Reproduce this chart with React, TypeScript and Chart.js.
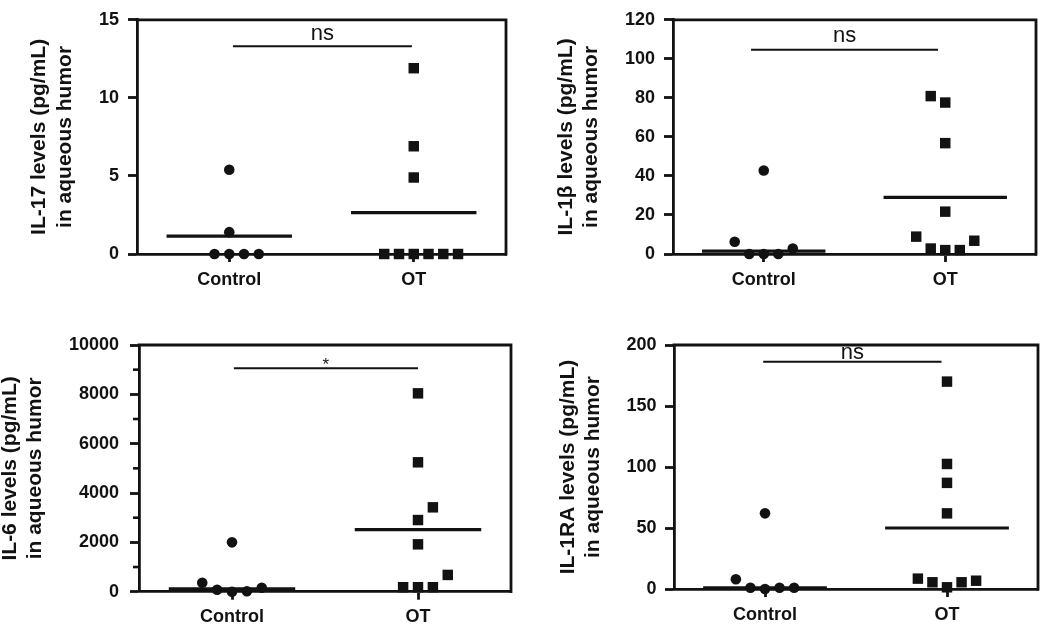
import React, { useEffect, useRef } from 'react';
import { Chart, registerables } from 'chart.js';

Chart.register(...registerables);

// ---------- data ----------
const groups = ['Control', 'OT'];
const lineLabel2 = 'in aqueous humor';

// IL-17
const il17Title = 'IL-17 levels (pg/mL)';
const il17Ticks = [0, 5, 10, 15];
const il17ControlX = [1.0, 1.0, 0.92, 1.0, 1.08, 1.16];
const il17ControlY = [5.4, 1.4, 0, 0, 0, 0];
const il17OtX = [2.0, 2.0, 2.0, 1.84, 1.92, 2.0, 2.08, 2.16, 2.24];
const il17OtY = [11.9, 6.9, 4.9, 0, 0, 0, 0, 0, 0];
const il17Means = [1.15, 2.65];
const il17SigY = 13.3;
const il17SigX = [1.02, 1.99];
const il17SigLabel = 'ns';

// IL-1β
const il1bTitle = 'IL-1β levels (pg/mL)';
const il1bTicks = [0, 20, 40, 60, 80, 100, 120];
const il1bControlX = [1.0, 0.84, 0.92, 1.0, 1.08, 1.16];
const il1bControlY = [42.8, 6.3, 0, 0, 0, 2.8];
const il1bOtX = [1.92, 2.0, 2.0, 2.0, 1.84, 1.92, 2.0, 2.08, 2.16];
const il1bOtY = [80.9, 77.6, 56.8, 21.7, 8.9, 2.8, 2.0, 2.0, 6.8];
const il1bMeans = [1.5, 29];
const il1bSigY = 104.7;
const il1bSigX = [0.93, 1.96];
const il1bSigLabel = 'ns';

// IL-6
const il6Title = 'IL-6 levels (pg/mL)';
const il6Ticks = [0, 2000, 4000, 6000, 8000, 10000];
const il6MinorTicks = [1000, 3000, 5000, 7000, 9000];
const il6ControlX = [0.84, 0.92, 1.0, 1.0, 1.08, 1.16];
const il6ControlY = [365, 80, 2000, 0, 20, 160];
const il6OtX = [2.0, 2.0, 2.08, 2.0, 2.0, 2.16, 1.92, 2.0, 2.08];
const il6OtY = [8040, 5245, 3420, 2905, 1920, 680, 180, 180, 180];
const il6Means = [120, 2515];
const il6SigY = 9056;
const il6SigX = [1.01, 2.0];
const il6SigLabel = '*';

// IL-1RA
const il1raTitle = 'IL-1RA levels (pg/mL)';
const il1raTicks = [0, 50, 100, 150, 200];
const il1raControlX = [0.84, 0.92, 1.0, 1.0, 1.08, 1.16];
const il1raControlY = [8, 1, 62, 0, 1, 1];
const il1raOtX = [2.0, 2.0, 2.0, 2.0, 1.84, 1.92, 2.0, 2.08, 2.16];
const il1raOtY = [170, 102.5, 87, 62, 8.5, 5.5, 1.4, 5.5, 6.8];
const il1raMeans = [1, 50];
const il1raSigY = 186.3;
const il1raSigX = [0.99, 1.97];
const il1raSigLabel = 'ns';

// ---------- panel tables built from the data ----------
const panels = [
  { title: il17Title, ticks: il17Ticks, minor: [] as number[], cx: il17ControlX, cy: il17ControlY, ox: il17OtX, oy: il17OtY, means: il17Means, sigY: il17SigY, sigX: il17SigX, sig: il17SigLabel },
  { title: il1bTitle, ticks: il1bTicks, minor: [] as number[], cx: il1bControlX, cy: il1bControlY, ox: il1bOtX, oy: il1bOtY, means: il1bMeans, sigY: il1bSigY, sigX: il1bSigX, sig: il1bSigLabel },
  { title: il6Title, ticks: il6Ticks, minor: il6MinorTicks, cx: il6ControlX, cy: il6ControlY, ox: il6OtX, oy: il6OtY, means: il6Means, sigY: il6SigY, sigX: il6SigX, sig: il6SigLabel },
  { title: il1raTitle, ticks: il1raTicks, minor: [] as number[], cx: il1raControlX, cy: il1raControlY, ox: il1raOtX, oy: il1raOtY, means: il1raMeans, sigY: il1raSigY, sigX: il1raSigX, sig: il1raSigLabel },
];

// ---------- layout / style ----------
const CW = 525;
const CH = 312;
const layouts = [
  { left: 0, top: 0, yw: 137, padTop: 12.7, padRight: 19, xh: 58, titlePad: 27, tickPad: 9, sigGap: 6, sigSize: 22 },
  { left: 525, top: 0, yw: 148, padTop: 6.7, padRight: 14, xh: 58, titlePad: 28.5, tickPad: 9, sigGap: 8, sigSize: 22 },
  { left: 0, top: 312, yw: 139, padTop: 33, padRight: 14, xh: 32.3, titlePad: -2.5, tickPad: 11, sigGap: -2, sigSize: 17 },
  { left: 525, top: 312, yw: 149, padTop: 33, padRight: 12, xh: 35, titlePad: 30.5, tickPad: 8.5, sigGap: 2.5, sigSize: 22 },
];

const FONT = '"Liberation Sans", Arial, Helvetica, sans-serif';
const INK = '#121212';
const HALF = 0.34;

function makeChart(canvas: HTMLCanvasElement, p: any, L: any) {
  const pts = (xs: number[], ys: number[]) => xs.map((x, i) => ({ x, y: ys[i] }));
  const frame = {
    id: 'frame',
    afterDatasetsDraw(chart: any) {
      const { ctx, chartArea: a, scales } = chart;
      ctx.save();
      ctx.strokeStyle = INK;
      ctx.lineWidth = 2.8;
      ctx.lineCap = 'square';
      ctx.beginPath();
      ctx.moveTo(a.left, a.top);
      ctx.lineTo(a.right, a.top);
      ctx.lineTo(a.right, a.bottom);
      ctx.stroke();
      // minor ticks
      ctx.lineCap = 'butt';
      ctx.lineWidth = 2.6;
      for (const v of p.minor) {
        const y = scales.y.getPixelForValue(v);
        ctx.beginPath();
        ctx.moveTo(a.left - 6, y);
        ctx.lineTo(a.left, y);
        ctx.stroke();
      }
      // significance label
      const x0 = scales.x.getPixelForValue(p.sigX[0]);
      const x1 = scales.x.getPixelForValue(p.sigX[1]);
      const ys = scales.y.getPixelForValue(p.sigY);
      ctx.fillStyle = INK;
      ctx.font = `${L.sigSize}px ${FONT}`;
      ctx.textAlign = 'center';
      ctx.textBaseline = 'alphabetic';
      ctx.fillText(p.sig, (x0 + x1) / 2, ys - L.sigGap);
      ctx.restore();
    },
  };
  const lineDs = (x0: number, x1: number, y: number, w: number) => ({
    type: 'line',
    data: [{ x: x0, y }, { x: x1, y }],
    borderColor: INK,
    borderWidth: w,
    pointRadius: 0,
    fill: false,
    clip: false,
  });
  return new Chart(canvas, {
    type: 'scatter',
    data: {
      datasets: [
        { data: pts(p.cx, p.cy), pointStyle: 'circle', pointRadius: 5.3, backgroundColor: INK, borderColor: INK, borderWidth: 0, clip: false },
        { data: pts(p.ox, p.oy), pointStyle: 'rect', pointRadius: 7.4, backgroundColor: INK, borderColor: INK, borderWidth: 0, clip: false },
        lineDs(1 - HALF, 1 + HALF, p.means[0], 3.2),
        lineDs(2 - HALF, 2 + HALF, p.means[1], 3.2),
        lineDs(p.sigX[0], p.sigX[1], p.sigY, 2),
      ] as any,
    },
    options: {
      responsive: false,
      animation: false,
      devicePixelRatio: 1,
      events: [],
      layout: { autoPadding: false, padding: { top: L.padTop, right: L.padRight, bottom: 0, left: 0 } },
      plugins: { legend: { display: false }, tooltip: { enabled: false } },
      scales: {
        x: {
          type: 'linear',
          min: 0.5,
          max: 2.5,
          afterBuildTicks: (s: any) => { s.ticks = [{ value: 1 }, { value: 2 }]; },
          afterFit: (s: any) => { s.height = L.xh; },
          ticks: {
            callback: (v: any) => groups[Math.round(v) - 1],
            font: { family: FONT, size: 18, weight: 'bold' },
            color: INK,
            padding: 7,
            maxRotation: 0,
            autoSkip: false,
          },
          grid: { drawOnChartArea: false, drawTicks: true, tickLength: 8, tickWidth: 2.8, tickColor: INK },
          border: { display: true, color: INK, width: 2.8 },
        },
        y: {
          type: 'linear',
          min: p.ticks[0],
          max: p.ticks[p.ticks.length - 1],
          afterBuildTicks: (s: any) => { s.ticks = p.ticks.map((v: number) => ({ value: v })); },
          afterFit: (s: any) => { s.width = L.yw; },
          ticks: {
            font: { family: FONT, size: 18, weight: 'bold' },
            color: INK,
            padding: L.tickPad,
            callback: (v: any) => String(v),
          },
          grid: { drawOnChartArea: false, drawTicks: true, tickLength: 9, tickWidth: 2.8, tickColor: INK },
          border: { display: true, color: INK, width: 2.8 },
          title: {
            display: true,
            text: [p.title, lineLabel2],
            color: INK,
            font: { family: FONT, size: 21, weight: 'bold', lineHeight: 1.2 },
            padding: { top: L.titlePad, bottom: 0 },
          },
        },
      },
    } as any,
    plugins: [frame],
  });
}

function Panel({ idx }: { idx: number }) {
  const ref = useRef<HTMLCanvasElement>(null);
  const L = layouts[idx];
  useEffect(() => {
    if (!ref.current) return;
    const c = makeChart(ref.current, panels[idx], L);
    return () => c.destroy();
  }, [idx]);
  return (
    <canvas
      ref={ref}
      width={CW}
      height={CH}
      style={{ position: 'absolute', left: L.left, top: L.top, width: CW, height: CH, display: 'block' }}
    />
  );
}

export default function App() {
  return (
    <div style={{ position: 'absolute', left: 0, top: 0, width: 1050, height: 624, background: '#fff', overflow: 'hidden' }}>
      {panels.map((_, i) => (
        <Panel key={i} idx={i} />
      ))}
    </div>
  );
}
